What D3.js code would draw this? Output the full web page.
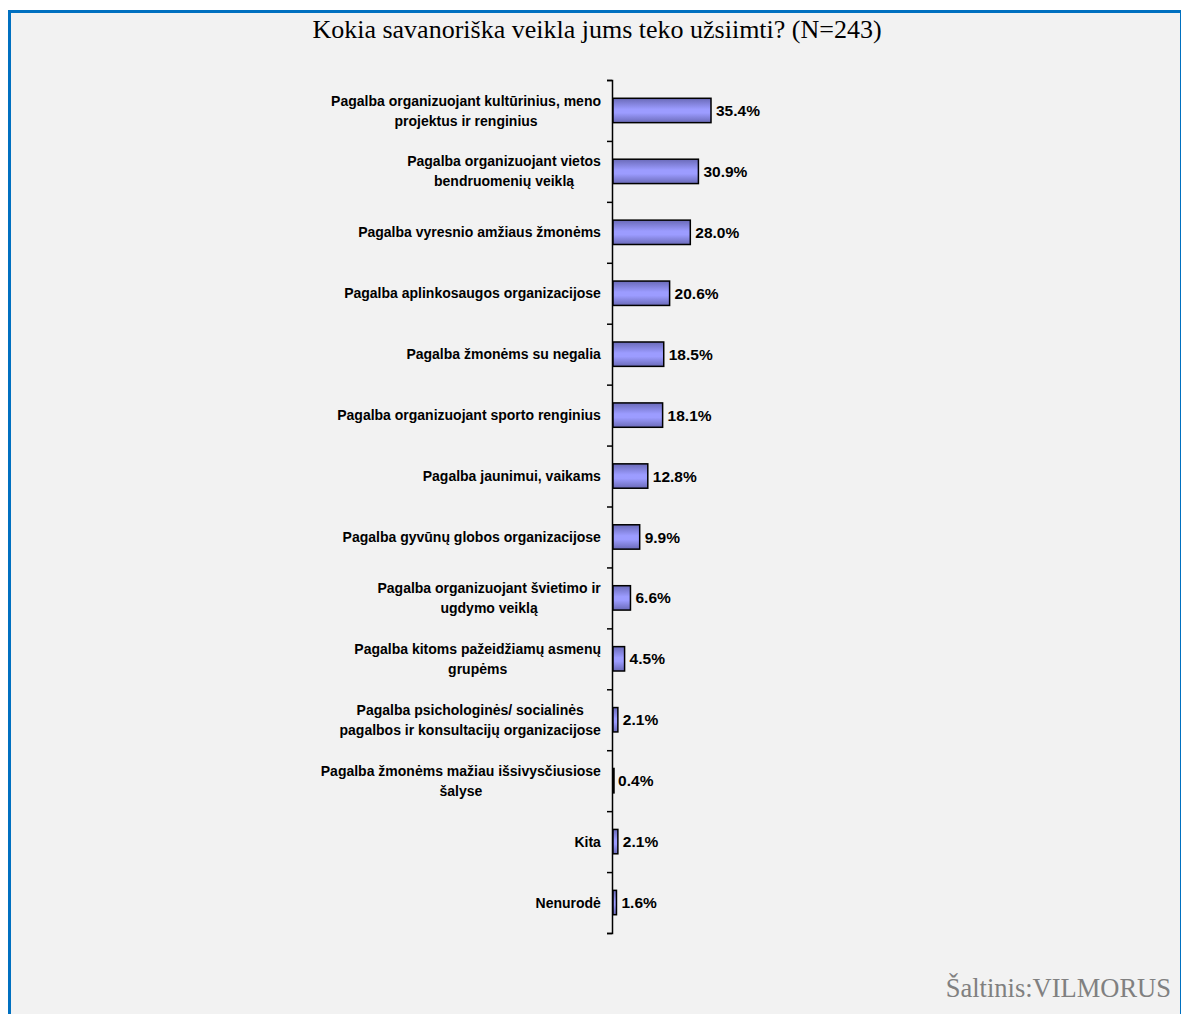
<!DOCTYPE html>
<html>
<head>
<meta charset="utf-8">
<script src="https://cdn.jsdelivr.net/npm/d3@7"></script>
<style>
  body { margin: 0; background: #fff; }
</style>
</head>
<body>
<div id="chart"></div>
<script>
const CATEGORIES = [
  ["Pagalba organizuojant kultūrinius, meno", "projektus ir renginius"],
  ["Pagalba organizuojant vietos", "bendruomenių veiklą"],
  ["Pagalba vyresnio amžiaus žmonėms"],
  ["Pagalba aplinkosaugos organizacijose"],
  ["Pagalba žmonėms su negalia"],
  ["Pagalba organizuojant sporto renginius"],
  ["Pagalba jaunimui, vaikams"],
  ["Pagalba gyvūnų globos organizacijose"],
  ["Pagalba organizuojant švietimo ir", "ugdymo veiklą"],
  ["Pagalba kitoms pažeidžiamų asmenų", "grupėms"],
  ["Pagalba psichologinės/ socialinės", "pagalbos ir konsultacijų organizacijose"],
  ["Pagalba žmonėms mažiau išsivysčiusiose", "šalyse"],
  ["Kita"],
  ["Nenurodė"]
];
const VALUES = [35.4, 30.9, 28.0, 20.6, 18.5, 18.1, 12.8, 9.9, 6.6, 4.5, 2.1, 0.4, 2.1, 1.6];

const WIDTH = 1181;
const HEIGHT = 1014;
const AXIS_X = 612;
const AXIS_TOP = 80;
const AXIS_BOTTOM = 933;

const svg = d3.select("#chart").append("svg")
    .attr("width", WIDTH)
    .attr("height", HEIGHT);

const grad = svg.append("defs").append("linearGradient")
    .attr("id", "barGrad")
    .attr("x1", 0).attr("y1", 0).attr("x2", 0).attr("y2", 1);
grad.append("stop").attr("offset", "0%").attr("stop-color", "#6a6ab8");
grad.append("stop").attr("offset", "45%").attr("stop-color", "#9c9cff");
grad.append("stop").attr("offset", "60%").attr("stop-color", "#9c9cff");
grad.append("stop").attr("offset", "100%").attr("stop-color", "#6a6ab8");

// panel
svg.append("rect")
    .attr("x", 9.5).attr("y", 11.5)
    .attr("width", WIDTH - 9).attr("height", HEIGHT)
    .attr("fill", "#f2f2f2")
    .attr("stroke", "#0070c0")
    .attr("stroke-width", 3);

svg.append("text")
    .attr("x", 597).attr("y", 38)
    .attr("text-anchor", "middle")
    .style("font-family", "'Liberation Serif', 'Times New Roman', serif")
    .style("font-size", "26px")
    .attr("fill", "#000")
    .text("Kokia savanoriška veikla jums teko užsiimti? (N=243)");

svg.append("text")
    .attr("x", 1171).attr("y", 997)
    .attr("text-anchor", "end")
    .style("font-family", "'Liberation Serif', 'Times New Roman', serif")
    .style("font-size", "26.5px")
    .attr("fill", "#808080")
    .text("Šaltinis:VILMORUS");

const x = d3.scaleLinear()
    .domain([0, 35.4])
    .range([AXIS_X, 711]);

const y = d3.scaleBand()
    .domain(d3.range(VALUES.length))
    .range([AXIS_TOP, AXIS_BOTTOM])
    .paddingInner(0.6)
    .paddingOuter(0.3);

// axis line and ticks
const axis = d3.axisLeft(d3.scaleLinear().domain([0, VALUES.length]).range([AXIS_TOP, AXIS_BOTTOM]))
    .ticks(VALUES.length)
    .tickSize(5)
    .tickFormat("");
const axisG = svg.append("g")
    .attr("transform", `translate(${AXIS_X},0)`)
    .call(axis);
axisG.select(".domain").attr("stroke", "#000").attr("stroke-width", 1.5);
axisG.selectAll(".tick line").attr("stroke", "#000").attr("stroke-width", 1.5);

const bars = svg.append("g").selectAll("g")
    .data(VALUES.map((v, i) => ({ i, value: v, label: CATEGORIES[i] })))
  .enter().append("g");

bars.append("rect")
    .attr("x", AXIS_X + 1)
    .attr("y", d => y(d.i))
    .attr("width", d => Math.max(1, x(d.value) - AXIS_X - 1))
    .attr("height", y.bandwidth())
    .attr("fill", "url(#barGrad)")
    .attr("stroke", "#000")
    .attr("stroke-width", 1.5);

bars.append("text")
    .attr("x", d => x(d.value) + 5)
    .attr("y", d => y(d.i) + y.bandwidth() / 2)
    .attr("dy", "0.36em")
    .style("font-family", "'Liberation Sans', Arial, sans-serif")
    .style("font-weight", "bold")
    .style("font-size", "15.5px")
    .attr("fill", "#000")
    .text(d => d.value.toFixed(1) + "%");

const labels = bars.append("text")
    .attr("text-anchor", "middle")
    .style("font-family", "'Liberation Sans', Arial, sans-serif")
    .style("font-weight", "bold")
    .style("font-size", "14px")
    .attr("fill", "#000");

labels.each(function(d) {
  const t = d3.select(this);
  const cy = y(d.i) + y.bandwidth() / 2;
  const n = d.label.length;
  const lineH = 20;
  d.label.forEach((line, k) => {
    t.append("tspan")
        .attr("x", 0)
        .attr("y", cy + (k - (n - 1) / 2) * lineH)
        .attr("dy", "0.36em")
        .text(line);
  });
  // centre the block, then right-align its widest line at the axis
  const w = this.getBBox().width;
  t.attr("transform", `translate(${AXIS_X - 11 - w / 2},0)`);
});
</script>
</body>
</html>
